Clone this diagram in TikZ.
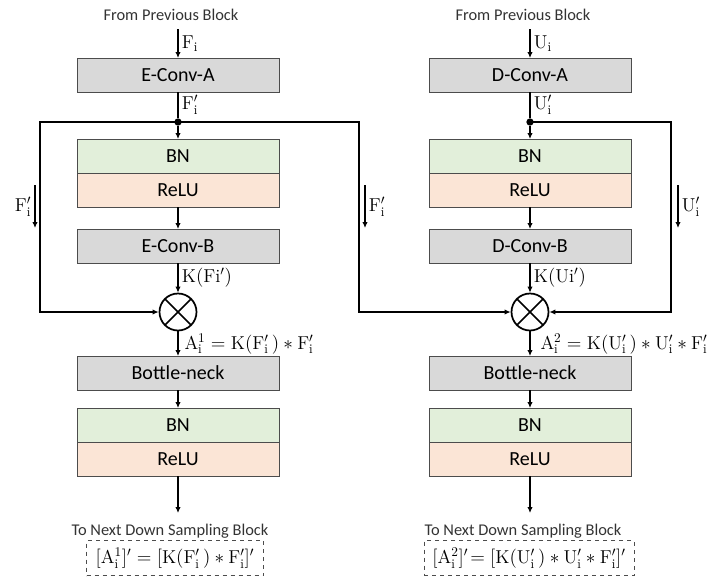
\documentclass[tikz,border=0pt]{standalone}
\usepackage{fontspec}
\usepackage{amsmath}
\newfontfamily\calib{Carlito}
\usetikzlibrary{arrows.meta, positioning, calc}
\definecolor{convgray}{HTML}{D9D9D9}
\definecolor{bngreen}{HTML}{E2EFDA}
\definecolor{relupeach}{HTML}{FBE5D6}
\tikzstyle{block} = [rectangle, draw=black!70, line width=0.75pt, minimum width=151.5pt, minimum height=25.5pt, inner sep=0pt, outer sep=0pt, font=\calib\fontsize{15}{17}\selectfont]
\tikzstyle{arrow} = [line width=0.8pt,->]
\newcommand{\Fip}{\mathrm{F}'_{\mathrm{i}}}
\newcommand{\Uip}{\mathrm{U}'_{\mathrm{i}}}

\begin{document}
\begin{tikzpicture}[x=0.75pt, y=-0.75pt,
    convbox/.style={block, fill=convgray},
    bnbox/.style={block, fill=bngreen},
    relubox/.style={block, fill=relupeach},
    mulnode/.style={circle, draw, line width=1.3pt, minimum size=27.75pt, inner sep=0pt,
      path picture={\draw[line width=1.3pt] (path picture bounding box.north west) -- (path picture bounding box.south east)
        (path picture bounding box.north east) -- (path picture bounding box.south west);}},
    junction/.style={circle, fill=black, inner sep=0pt, minimum size=5.5pt},
    lbl/.style={font=\fontsize{14}{16}\selectfont, inner sep=2.5pt},
    txt/.style={font=\calib\fontsize{12.3}{14}\selectfont, text=black!80},
    eqbox/.style={draw=black!70, dashed, line width=0.7pt, minimum height=26.25pt, inner sep=1pt, font=\fontsize{14}{16}\selectfont},
    skipline/.style={line width=1.3pt},
    >={Latex[length=4.5pt,width=4pt]}
  ]
    \useasboundingbox (0,0) rectangle (713,578);

    % Encoder side
    \node[txt] (src1) at (171,15) {From Previous Block};
    \coordinate (in1) at (178,29);
    \node[convbox] (ea) at (178,75) {E-Conv-A};
    \node[junction] (j1) at (178,122) {};
    \node[bnbox] (bn1) at (178,156) {BN};
    \node[relubox, below=0pt of bn1] (relu1) {ReLU};
    \node[convbox] (eb) at (178,246) {E-Conv-B};
    \node[mulnode] (m1) at (178,312) {};
    \node[convbox] (bk1) at (178,373) {Bottle-neck};
    \node[bnbox] (bn2) at (178,425) {BN};
    \node[relubox, below=0pt of bn2] (relu2) {ReLU};
    \coordinate (out1) at (178,513);
    \node[txt] (dst1) at (170,531) {To Next Down Sampling Block};
    \node[eqbox, minimum width=132.75pt] (eq1) at (175,558)
      {$[\mathrm{A}^{1}_{\mathrm{i}}]' = [\mathrm{K}(\Fip\,) \ast \Fip]'$};

    % Decoder side
    \node[txt] (src2) at (523,15) {From Previous Block};
    \coordinate (in2) at (530,29);
    \node[convbox] (da) at (530,75) {D-Conv-A};
    \node[junction] (j2) at (530,122) {};
    \node[bnbox] (bn3) at (530,156) {BN};
    \node[relubox, below=0pt of bn3] (relu3) {ReLU};
    \node[convbox] (db) at (530,246) {D-Conv-B};
    \node[mulnode] (m2) at (530,312) {};
    \node[convbox] (bk2) at (530,373) {Bottle-neck};
    \node[bnbox] (bn4) at (530,425) {BN};
    \node[relubox, below=0pt of bn4] (relu4) {ReLU};
    \coordinate (out2) at (530,513);
    \node[txt] (dst2) at (523,531) {To Next Down Sampling Block};
    \node[eqbox, minimum width=157.5pt] (eq2) at (529,558)
      {$[\mathrm{A}^{2}_{\mathrm{i}}]'\!= [\mathrm{K}(\Uip\,) \ast \Uip \ast \Fip]'$};

    % Main flow arrows
    \draw[arrow] (in1) -- node[lbl, right] {$\mathrm{F}_{\mathrm{i}}$} (ea);
    \draw[line width=0.8pt] (ea) -- node[lbl, right] {$\Fip$} (j1);
    \draw[arrow] (j1) -- (bn1);
    \draw[arrow] (relu1) -- (eb);
    \draw[arrow] (eb) -- node[lbl, right] {$\mathrm{K}(\mathrm{Fi}')$} (m1);
    \draw[arrow] (m1) -- node[lbl, right, xshift=2pt] {$\mathrm{A}^{1}_{\mathrm{i}} = \mathrm{K}(\Fip\,) \ast \Fip$} (bk1);
    \draw[arrow] (bk1) -- (bn2);
    \draw[arrow] (relu2) -- (out1);

    \draw[arrow] (in2) -- node[lbl, right] {$\mathrm{U}_{\mathrm{i}}$} (da);
    \draw[line width=0.8pt] (da) -- node[lbl, right] {$\Uip$} (j2);
    \draw[arrow] (j2) -- (bn3);
    \draw[arrow] (relu3) -- (db);
    \draw[arrow] (db) -- node[lbl, right] {$\mathrm{K}(\mathrm{Ui}')$} (m2);
    \draw[arrow] (m2) -- node[lbl, right, xshift=5pt] {$\mathrm{A}^{2}_{\mathrm{i}} = \mathrm{K}(\Uip\,) \ast \Uip \ast \Fip$} (bk2);
    \draw[arrow] (bk2) -- (bn4);
    \draw[arrow] (relu4) -- (out2);

    % Skip connections
    \coordinate (lc1) at (40,312);
    \coordinate (lc2) at (359,312);
    \coordinate (lc3) at (671,312);
    \draw[skipline, ->] (j1.center) -| (lc1) -- (m1);
    \draw[skipline, ->] (j1.center) -| (lc2) -- (m2);
    \draw[skipline, ->] (j2.center) -| (lc3) -- (m2);

    % Side labels of the skips
    \coordinate (s1a) at (35,185);  \coordinate (s1b) at (35,228);
    \coordinate (s2a) at (365,185); \coordinate (s2b) at (365,228);
    \coordinate (s3a) at (678,185); \coordinate (s3b) at (678,228);
    \draw[arrow] (s1a) -- node[lbl, left] {$\Fip$} (s1b);
    \draw[arrow] (s2a) -- node[lbl, right] {$\Fip$} (s2b);
    \draw[arrow] (s3a) -- node[lbl, right] {$\Uip$} (s3b);
  \end{tikzpicture}
\end{document}
